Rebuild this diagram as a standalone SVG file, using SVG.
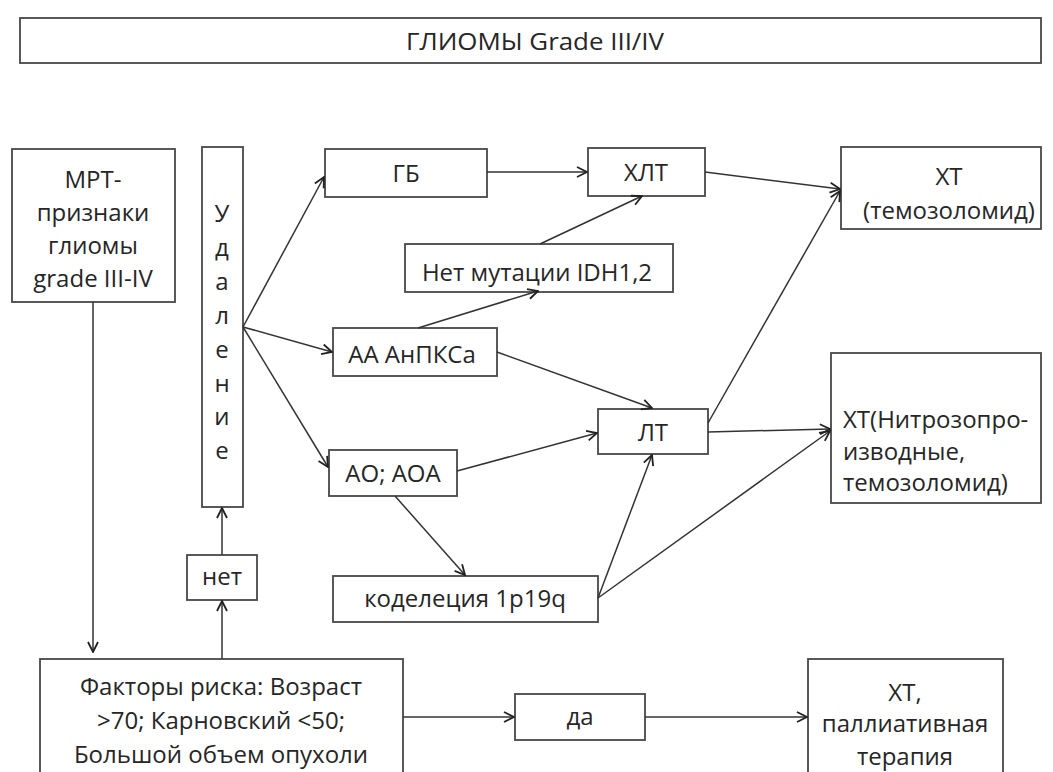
<svg xmlns="http://www.w3.org/2000/svg" width="1053" height="772" viewBox="0 0 1053 772">
<defs>
<style>
.box{fill:#fff;stroke:#474747;stroke-width:1.8}
.t{font-family:"Open Sans","Noto Sans",sans-serif;font-size:24px;fill:#262626;text-anchor:middle}
.l{text-anchor:start}
.c{stroke:#333;stroke-width:1.5;fill:none;marker-end:url(#ah)}
</style>
<marker id="ah" viewBox="0 0 12 12" refX="11" refY="6" markerWidth="12" markerHeight="12" markerUnits="userSpaceOnUse" orient="auto">
<path d="M1,1 L11,6 L1,11" fill="none" stroke="#222" stroke-width="1.8"/>
</marker>
</defs>
<rect width="1053" height="772" fill="#fff"/>
<g id="title"><rect class="box" x="20" y="18" width="1021" height="45"/><text class="t" x="535" y="50" font-size="27" textLength="258" lengthAdjust="spacingAndGlyphs">ГЛИОМЫ Grade III/IV</text></g>
<g id="mrt"><rect class="box" x="12" y="149" width="163" height="153"/>
<text class="t" x="93" y="188">МРТ-</text><text class="t" x="93" y="221">признаки</text><text class="t" x="93" y="254">глиомы</text><text class="t" x="93" y="287">grade III-IV</text></g>
<g id="udalenie"><rect class="box" x="202" y="147" width="41" height="360"/>
<text class="t" x="222" y="222">У</text><text class="t" x="222" y="256">д</text><text class="t" x="222" y="290">а</text><text class="t" x="222" y="324">л</text><text class="t" x="222" y="358">е</text><text class="t" x="222" y="392">н</text><text class="t" x="222" y="425">и</text><text class="t" x="222" y="459">е</text></g>
<g id="gb"><rect class="box" x="325" y="149" width="162" height="48"/><text class="t" x="406" y="182">ГБ</text></g>
<g id="hlt"><rect class="box" x="588" y="148" width="117" height="48"/><text class="t" x="646" y="181">ХЛТ</text></g>
<g id="xt1"><rect class="box" x="841" y="147" width="200" height="82"/><text class="t" x="949" y="185">ХТ</text><text class="t" x="949" y="219">(темозоломид)</text></g>
<g id="idh"><rect class="box" x="405" y="244" width="268" height="48"/><text class="t" x="537" y="281">Нет мутации IDH1,2</text></g>
<g id="aa"><rect class="box" x="333" y="328" width="164" height="48"/><text class="t" x="412" y="363">АА АнПКСа</text></g>
<g id="xt2"><rect class="box" x="831" y="353" width="210" height="150"/><text class="t l" x="843" y="428">ХТ(Нитрозопро-</text><text class="t l" x="843" y="460">изводные,</text><text class="t l" x="843" y="491">темозоломид)</text></g>
<g id="lt"><rect class="box" x="598" y="409" width="110" height="45"/><text class="t" x="653" y="441">ЛТ</text></g>
<g id="ao"><rect class="box" x="329" y="450" width="128" height="46"/><text class="t" x="393" y="482">АО; АОА</text></g>
<g id="net"><rect class="box" x="187" y="555" width="70" height="45"/><text class="t" x="222" y="585">нет</text></g>
<g id="kodel"><rect class="box" x="333" y="576" width="265" height="46"/><text class="t" x="465" y="607">коделеция 1p19q</text></g>
<g id="factors"><rect class="box" x="40" y="659" width="363" height="130"/><text class="t" x="221" y="695">Факторы риска: Возраст</text><text class="t" x="221" y="729">&gt;70; Карновский &lt;50;</text><text class="t" x="221" y="763">Большой объем опухоли</text></g>
<g id="da"><rect class="box" x="515" y="694" width="130" height="46"/><text class="t" x="580" y="725">да</text></g>
<g id="xt3"><rect class="box" x="808" y="659" width="195" height="130"/><text class="t" x="905" y="701">ХТ,</text><text class="t" x="905" y="732">паллиативная</text><text class="t" x="905" y="765">терапия</text></g>
<g id="connectors">
<path class="c" d="M93,302 L93,652"/>
<path class="c" d="M222,659 L222,601"/>
<path class="c" d="M222,555 L222,508"/>
<path class="c" d="M403,717 L514,717"/>
<path class="c" d="M645,717 L807,717"/>
<path class="c" d="M243,327 L324,177"/>
<path class="c" d="M243,327 L332,352"/>
<path class="c" d="M243,327 L328,467"/>
<path class="c" d="M487,172 L587,172"/>
<path class="c" d="M705,172 L840,189"/>
<path class="c" d="M540,244 L642,196"/>
<path class="c" d="M418,328 L538,291"/>
<path class="c" d="M497,352 L652,408"/>
<path class="c" d="M708,423 L840,191"/>
<path class="c" d="M708,432 L830,429"/>
<path class="c" d="M457,471 L597,433"/>
<path class="c" d="M395,496 L465,575"/>
<path class="c" d="M598,598 L652,455"/>
<path class="c" d="M598,598 L830,431"/>
</g>
</svg>
